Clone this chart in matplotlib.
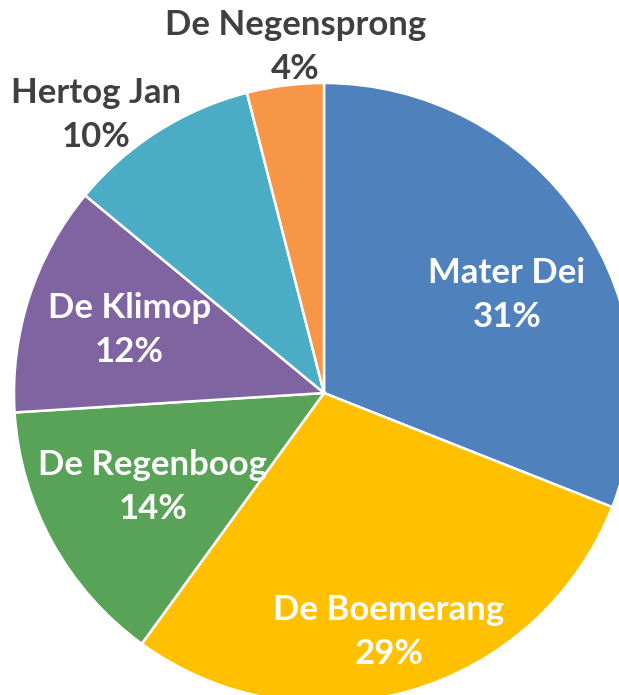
import numpy as np
import matplotlib.pyplot as plt

# Data
schools = ["Mater Dei", "De Boemerang", "De Regenboog", "De Klimop", "Hertog Jan", "De Negensprong"]
shares = [31, 29, 14, 12, 10, 4]
colors = ["#4F81BD", "#FFC000", "#59A359", "#8064A2", "#4BACC6", "#F79646"]

# label placement: radial distance (fraction of radius) and angle nudge (deg)
label_dist = [0.67, 0.80, 0.63, 0.66, 1.16, 1.12]
label_nudge = [-6, -1, 0, 0, 7, -2.5]
label_color = ["white", "white", "white", "white", "#404040", "#404040"]

W, H = 619, 695
fig = plt.figure(figsize=(W / 100, H / 100), dpi=100)
ax = fig.add_axes([0, 0, 1, 1])

cx, cy, r = 324, H - 393, 310
wedges, _ = ax.pie(shares, colors=colors, startangle=90, counterclock=False,
                   center=(cx, cy), radius=r, frame=True,
                   wedgeprops=dict(edgecolor="white", linewidth=1.8))
ax.set_xlim(0, W)
ax.set_ylim(0, H)
ax.set_aspect("equal")
ax.axis("off")

total = sum(shares)
for w, name, val, d, nud, col in zip(wedges, schools, shares, label_dist, label_nudge, label_color):
    mid = np.deg2rad((w.theta1 + w.theta2) / 2 + nud)
    x = cx + d * r * np.cos(mid)
    y = cy + d * r * np.sin(mid)
    ax.text(x, y, f"{name}\n{val / total:.0%}", ha="center", va="center",
            color=col, fontsize=25, fontweight="bold", family="Lato",
            linespacing=1.45)

fig.savefig("out.png", dpi=100)
